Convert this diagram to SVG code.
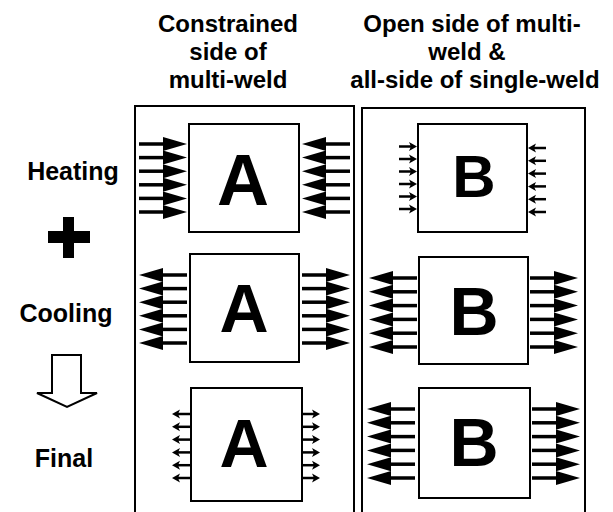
<svg xmlns="http://www.w3.org/2000/svg" xmlns:xlink="http://www.w3.org/1999/xlink" width="613" height="512" viewBox="0 0 613 512">
<style>
text{font-family:"Liberation Sans",Arial,sans-serif;font-weight:bold;fill:#000}
.hdr{font-size:24px;text-anchor:middle}
.lbl{font-size:25px;text-anchor:middle}
.big{text-anchor:middle}
.frame{fill:none;stroke:#000;stroke-width:2}
.box{fill:#fff;stroke:#000;stroke-width:2}
</style>
<defs>
<g id="bigR"><line x1="-48" y1="0" x2="-20" y2="0" stroke="#000" stroke-width="3.5"/><polygon points="-24,-7 0,0 -24,7" fill="#000"/></g>
<g id="smR"><line x1="-18" y1="0" x2="-5" y2="0" stroke="#000" stroke-width="2.5"/><polygon points="-8,-4.5 0,0 -8,4.5 -6,0" fill="#000"/></g>
</defs>
<rect width="613" height="512" fill="#fff"/>
<g id="headers">
<text class="hdr" x="228" y="32">Constrained</text>
<text class="hdr" x="228" y="60">side of</text>
<text class="hdr" x="228" y="88">multi-weld</text>
<text class="hdr" x="472" y="32">Open side of multi-</text>
<text class="hdr" x="467" y="60">weld &amp;</text>
<text class="hdr" x="475" y="88">all-side of single-weld</text>
</g>
<g id="labels">
<text class="lbl" x="73" y="180">Heating</text>
<g id="plus"><rect x="63" y="217" width="11" height="41"/><rect x="48" y="231" width="42" height="12"/></g>
<text class="lbl" x="66" y="322">Cooling</text>
<g id="downarrow"><polygon points="52,355 81,355 81,393 97,393 67,407 37,393 52,393" fill="#fff" stroke="#000" stroke-width="2" stroke-linejoin="miter"/></g>
<text class="lbl" x="64" y="467">Final</text>
</g>
<g id="panel1"><rect class="frame" x="135" y="106" width="219" height="420"/></g>
<g id="panel2"><rect class="frame" x="362" y="108" width="223" height="420"/></g>
<g id="A1"><rect class="box" x="189" y="124" width="110" height="108"/><text class="big" x="243" y="205" font-size="72">A</text></g>
<g id="A2"><rect class="box" x="190" y="254" width="109" height="108"/><text class="big" x="244" y="332" font-size="68">A</text></g>
<g id="A3"><rect class="box" x="191" y="388" width="111" height="113"/><text class="big" x="244" y="467" font-size="68">A</text></g>
<g id="B1"><rect class="box" x="418" y="124" width="109" height="108"/><text class="big" x="474" y="197" font-size="60">B</text></g>
<g id="B2"><rect class="box" x="419" y="257" width="109" height="107"/><text class="big" x="474" y="335" font-size="68">B</text></g>
<g id="B3"><rect class="box" x="419" y="388" width="111" height="110"/><text class="big" x="474" y="466" font-size="68">B</text></g>
<g id="connectors">
<use xlink:href="#bigR" transform="translate(187,144)"/>
<use xlink:href="#bigR" transform="translate(187,157.6)"/>
<use xlink:href="#bigR" transform="translate(187,171.2)"/>
<use xlink:href="#bigR" transform="translate(187,184.8)"/>
<use xlink:href="#bigR" transform="translate(187,198.4)"/>
<use xlink:href="#bigR" transform="translate(187,212)"/>
<use xlink:href="#bigR" transform="translate(302,144) scale(-1,1)"/>
<use xlink:href="#bigR" transform="translate(302,157.6) scale(-1,1)"/>
<use xlink:href="#bigR" transform="translate(302,171.2) scale(-1,1)"/>
<use xlink:href="#bigR" transform="translate(302,184.8) scale(-1,1)"/>
<use xlink:href="#bigR" transform="translate(302,198.4) scale(-1,1)"/>
<use xlink:href="#bigR" transform="translate(302,212) scale(-1,1)"/>
<use xlink:href="#bigR" transform="translate(139,275) scale(-1,1)"/>
<use xlink:href="#bigR" transform="translate(139,288.6) scale(-1,1)"/>
<use xlink:href="#bigR" transform="translate(139,302.2) scale(-1,1)"/>
<use xlink:href="#bigR" transform="translate(139,315.8) scale(-1,1)"/>
<use xlink:href="#bigR" transform="translate(139,329.4) scale(-1,1)"/>
<use xlink:href="#bigR" transform="translate(139,343) scale(-1,1)"/>
<use xlink:href="#bigR" transform="translate(350,275)"/>
<use xlink:href="#bigR" transform="translate(350,288.6)"/>
<use xlink:href="#bigR" transform="translate(350,302.2)"/>
<use xlink:href="#bigR" transform="translate(350,315.8)"/>
<use xlink:href="#bigR" transform="translate(350,329.4)"/>
<use xlink:href="#bigR" transform="translate(350,343)"/>
<use xlink:href="#smR" transform="translate(172,414) scale(-1,1)"/>
<use xlink:href="#smR" transform="translate(172,426.8) scale(-1,1)"/>
<use xlink:href="#smR" transform="translate(172,439.6) scale(-1,1)"/>
<use xlink:href="#smR" transform="translate(172,452.4) scale(-1,1)"/>
<use xlink:href="#smR" transform="translate(172,465.2) scale(-1,1)"/>
<use xlink:href="#smR" transform="translate(172,478) scale(-1,1)"/>
<use xlink:href="#smR" transform="translate(320,414)"/>
<use xlink:href="#smR" transform="translate(320,426.8)"/>
<use xlink:href="#smR" transform="translate(320,439.6)"/>
<use xlink:href="#smR" transform="translate(320,452.4)"/>
<use xlink:href="#smR" transform="translate(320,465.2)"/>
<use xlink:href="#smR" transform="translate(320,478)"/>
<use xlink:href="#smR" transform="translate(417,146.5)"/>
<use xlink:href="#smR" transform="translate(417,159)"/>
<use xlink:href="#smR" transform="translate(417,171.5)"/>
<use xlink:href="#smR" transform="translate(417,184)"/>
<use xlink:href="#smR" transform="translate(417,196.5)"/>
<use xlink:href="#smR" transform="translate(417,209)"/>
<use xlink:href="#smR" transform="translate(528,148) scale(-1,1)"/>
<use xlink:href="#smR" transform="translate(528,160.8) scale(-1,1)"/>
<use xlink:href="#smR" transform="translate(528,173.6) scale(-1,1)"/>
<use xlink:href="#smR" transform="translate(528,186.4) scale(-1,1)"/>
<use xlink:href="#smR" transform="translate(528,199.2) scale(-1,1)"/>
<use xlink:href="#smR" transform="translate(528,212) scale(-1,1)"/>
<use xlink:href="#bigR" transform="translate(369,278) scale(-1,1)"/>
<use xlink:href="#bigR" transform="translate(369,291.8) scale(-1,1)"/>
<use xlink:href="#bigR" transform="translate(369,305.6) scale(-1,1)"/>
<use xlink:href="#bigR" transform="translate(369,319.4) scale(-1,1)"/>
<use xlink:href="#bigR" transform="translate(369,333.2) scale(-1,1)"/>
<use xlink:href="#bigR" transform="translate(369,347) scale(-1,1)"/>
<use xlink:href="#bigR" transform="translate(578,278)"/>
<use xlink:href="#bigR" transform="translate(578,291.8)"/>
<use xlink:href="#bigR" transform="translate(578,305.6)"/>
<use xlink:href="#bigR" transform="translate(578,319.4)"/>
<use xlink:href="#bigR" transform="translate(578,333.2)"/>
<use xlink:href="#bigR" transform="translate(578,347)"/>
<use xlink:href="#bigR" transform="translate(367,409) scale(-1,1)"/>
<use xlink:href="#bigR" transform="translate(367,422.8) scale(-1,1)"/>
<use xlink:href="#bigR" transform="translate(367,436.6) scale(-1,1)"/>
<use xlink:href="#bigR" transform="translate(367,450.4) scale(-1,1)"/>
<use xlink:href="#bigR" transform="translate(367,464.2) scale(-1,1)"/>
<use xlink:href="#bigR" transform="translate(367,478) scale(-1,1)"/>
<use xlink:href="#bigR" transform="translate(580,409)"/>
<use xlink:href="#bigR" transform="translate(580,422.8)"/>
<use xlink:href="#bigR" transform="translate(580,436.6)"/>
<use xlink:href="#bigR" transform="translate(580,450.4)"/>
<use xlink:href="#bigR" transform="translate(580,464.2)"/>
<use xlink:href="#bigR" transform="translate(580,478)"/>
</g>
</svg>
